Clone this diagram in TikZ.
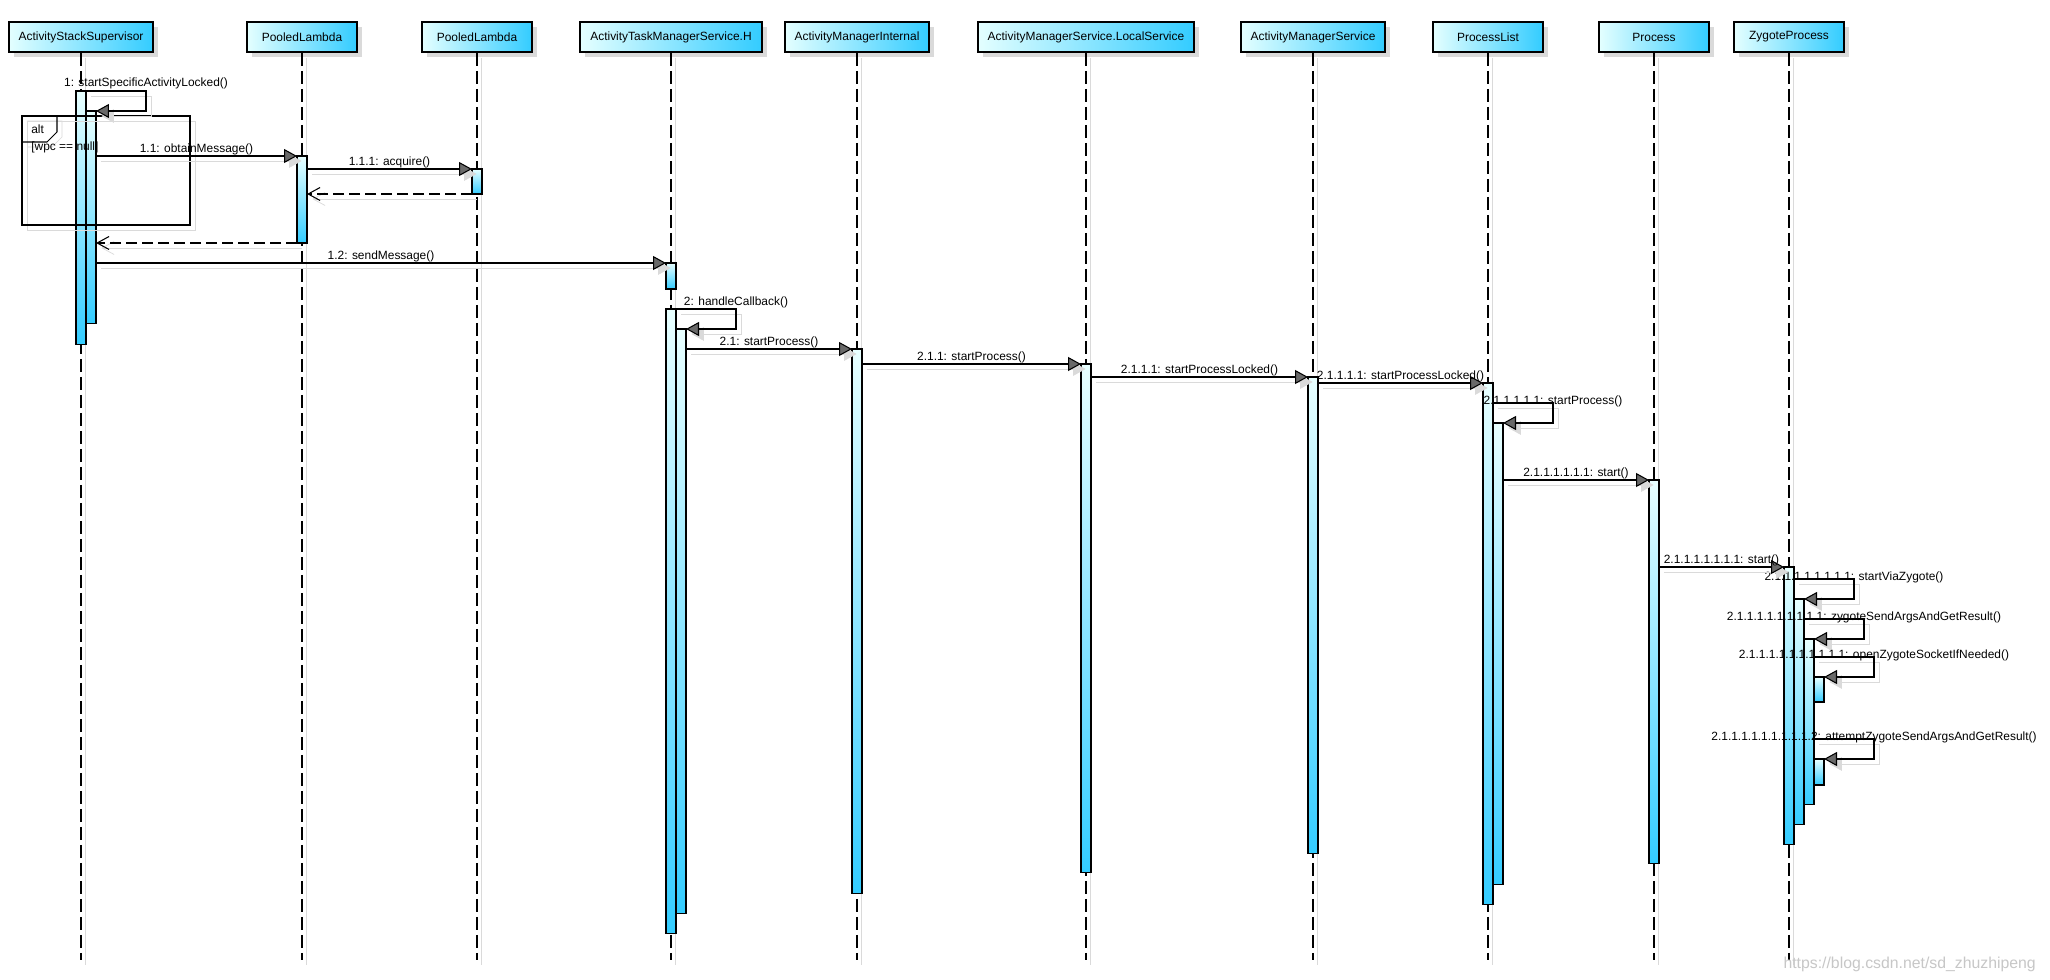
\documentclass[tikz,border=0pt]{standalone}
\usepackage{fontspec}
\setmainfont{Liberation Sans}
\usetikzlibrary{arrows.meta,shadows,calc}
\definecolor{headLeft}{RGB}{228,255,255}
\definecolor{headRight}{RGB}{51,204,255}
\definecolor{barTop}{RGB}{232,255,255}
\definecolor{barBot}{RGB}{51,204,255}
\definecolor{shadowGray}{RGB}{218,218,218}
\definecolor{tipGray}{RGB}{105,105,105}

\begin{document}
\begin{tikzpicture}[
      x=0.02cm, y=-0.02cm,
      font=\fontsize{6.8}{8}\selectfont,
      >={Triangle[length=0.26cm,width=0.28cm,fill=tipGray]},
      head/.style={draw=black, line width=1.1pt, left color=headLeft,
        right color=headRight, minimum width=2.2cm, minimum height=0.6cm,
        inner xsep=0.2cm,
        general shadow={shadow xshift=0.1cm, shadow yshift=-0.1cm, fill=shadowGray}},
      life/.style={line width=0.6pt, dash pattern=on 0.26cm off 0.1cm,
        preaction={draw=shadowGray, solid,
          transform canvas={shift={(0.08cm,-0.1cm)}}}},
      bar/.style={draw=black, line width=0.6pt, top color=barTop,
        bottom color=barBot, minimum width=0.2cm, inner sep=0pt,
        outer sep=0pt, anchor=north},
      msg/.style={line width=0.6pt, ->,
        preaction={draw=shadowGray,
          -{Triangle[length=0.26cm,width=0.28cm,fill=shadowGray]},
          transform canvas={shift={(0.1cm,-0.1cm)}}}},
      ret/.style={line width=0.6pt, dash pattern=on 0.22cm off 0.1cm,
        -{Straight Barb[length=0.24cm,width=0.26cm]},
        preaction={draw=shadowGray, solid,
          -{Straight Barb[length=0.24cm,width=0.26cm]},
          transform canvas={shift={(0.1cm,-0.1cm)}}}},
      frag/.style={line width=0.6pt,
        preaction={draw=shadowGray,
          transform canvas={shift={(0.1cm,-0.1cm)}}}},
      lbl/.style={inner sep=0.5pt, above},
      lblOn/.style={inner sep=0.5pt, yshift=0.04cm},
      wmark/.style={font=\fontsize{9}{10}\selectfont, text=black!22}
    ]
      \path[use as bounding box, fill=white] (0,0) rectangle (2050,980);

      % Lifeline heads
      \node[head] (hASS) at (81,37) {ActivityStackSupervisor};
      \node[head] (hPL1) at (302,37) {PooledLambda};
      \node[head] (hPL2) at (477,37) {PooledLambda};
      \node[head] (hATMS) at (671,37) {ActivityTaskManagerService.H};
      \node[head] (hAMI) at (857,37) {ActivityManagerInternal};
      \node[head] (hLS) at (1086,37) {ActivityManagerService.LocalService};
      \node[head] (hAMS) at (1313,37) {ActivityManagerService};
      \node[head] (hPList) at (1488,37) {ProcessList};
      \node[head] (hProc) at (1654,37) {Process};
      \node[head] (hZygote) at (1789,37) {ZygoteProcess};

      % Lifelines
      \coordinate (bot) at (0,960);
      \foreach \h in {hASS,hPL1,hPL2,hATMS,hAMI,hLS,hAMS,hPList,hProc,hZygote}
        \draw[life] (\h) -- (\h |- bot);

      % Activation bars
      \node[bar, minimum height=5.08cm] (asOuter) at (81,91) {};
      \node[bar, minimum height=4.26cm] (asInner) at (91,111) {};
      \node[bar, minimum height=1.74cm] (plBar) at (302,156) {};
      \node[bar, minimum height=0.5cm] (pl2Bar) at (477,169) {};
      \node[bar, minimum height=0.52cm] (atmsSmall) at (671,263) {};
      \node[bar, minimum height=12.5cm] (atmsOuter) at (671,309) {};
      \node[bar, minimum height=11.7cm] (atmsInner) at (681,329) {};
      \node[bar, minimum height=10.9cm] (amiBar) at (857,349) {};
      \node[bar, minimum height=10.18cm] (lsBar) at (1086,364) {};
      \node[bar, minimum height=9.54cm] (amsBar) at (1313,377) {};
      \node[bar, minimum height=10.44cm] (plistOuter) at (1488,383) {};
      \node[bar, minimum height=9.24cm] (plistInner) at (1498,423) {};
      \node[bar, minimum height=7.68cm] (procBar) at (1654,480) {};
      \node[bar, minimum height=5.56cm] (zyBar1) at (1789,567) {};
      \node[bar, minimum height=4.52cm] (zyBar2) at (1799,599) {};
      \node[bar, minimum height=3.32cm] (zyBar3) at (1809,639) {};
      \node[bar, minimum height=0.5cm] (zyBar4) at (1819,677) {};
      \node[bar, minimum height=0.52cm] (zyBar5) at (1819,759) {};

      % alt fragment
      \draw[frag] (22,116) coordinate (altNW) rectangle (190,225);
      \draw[frag] (altNW) -| ++(35,16) -- ++(-10,10) -- ++(-25,0);
      \node[anchor=west, inner sep=0pt] (altTxt) at (31,129) {alt};
      \node[anchor=west, inner sep=0pt] (altGuard) at (31,147) {[wpc == null]};

      % Self calls
      \draw[msg] ([yshift=0.4cm]asInner.north west) -- ++(60,0)
        node[lbl, yshift=0.02cm] (t1) {1: startSpecificActivityLocked()}
        |- (asInner.north east);
      \draw[msg] ([yshift=0.4cm]atmsInner.north west) -- ++(60,0)
        node[lbl] (t2) {2: handleCallback()} |- (atmsInner.north east);
      \draw[msg] ([yshift=0.4cm]plistInner.north west) -- ++(60,0)
        node[lblOn] (t211111) {2.1.1.1.1.1: startProcess()}
        |- (plistInner.north east);
      \draw[msg] ([yshift=0.4cm]zyBar2.north west) -- ++(60,0)
        node[lblOn] (tVia) {2.1.1.1.1.1.1.1.1: startViaZygote()}
        |- (zyBar2.north east);
      \draw[msg] ([yshift=0.4cm]zyBar3.north west) -- ++(60,0)
        node[lblOn] (tSend) {2.1.1.1.1.1.1.1.1.1: zygoteSendArgsAndGetResult()}
        |- (zyBar3.north east);
      \draw[msg] ([yshift=0.4cm]zyBar4.north west) -- ++(60,0)
        node[lblOn] (tOpen) {2.1.1.1.1.1.1.1.1.1.1: openZygoteSocketIfNeeded()}
        |- (zyBar4.north east);
      \draw[msg] ([yshift=0.4cm]zyBar5.north west) -- ++(60,0)
        node[lblOn] (tAttempt) {2.1.1.1.1.1.1.1.1.1.2: attemptZygoteSendArgsAndGetResult()}
        |- (zyBar5.north east);

      % Messages
      \draw[msg] (asInner.east |- plBar.north) --
        node[lbl] (t11) {1.1: obtainMessage()} (plBar.north west);
      \draw[msg] (plBar.east |- pl2Bar.north) --
        node[lbl] (t111) {1.1.1: acquire()} (pl2Bar.north west);
      \draw[ret] (pl2Bar.south west) -- (plBar.east |- pl2Bar.south);
      \draw[ret] (plBar.south west) -- (asInner.east |- plBar.south);
      \draw[msg] (asInner.east |- atmsSmall.north) --
        node[lbl] (t12) {1.2: sendMessage()} (atmsSmall.north west);
      \draw[msg] (atmsInner.east |- amiBar.north) --
        node[lbl] (t21) {2.1: startProcess()} (amiBar.north west);
      \draw[msg] (amiBar.east |- lsBar.north) --
        node[lbl] (t211) {2.1.1: startProcess()} (lsBar.north west);
      \draw[msg] (lsBar.east |- amsBar.north) --
        node[lbl] (t2111) {2.1.1.1: startProcessLocked()} (amsBar.north west);
      \draw[msg] (amsBar.east |- plistOuter.north) --
        node[lbl] (t21111) {2.1.1.1.1: startProcessLocked()} (plistOuter.north west);
      \draw[msg] (plistInner.east |- procBar.north) --
        node[lbl] (tStart) {2.1.1.1.1.1.1: start()} (procBar.north west);
      \draw[msg] (procBar.east |- zyBar1.north) --
        node[lbl] (tStartZ) {2.1.1.1.1.1.1.1: start()} (zyBar1.north west);

      % watermark
      \node[wmark, anchor=east] (wm) at (2042,964) {https://blog.csdn.net/sd\_zhuzhipeng};
    \end{tikzpicture}
\end{document}
